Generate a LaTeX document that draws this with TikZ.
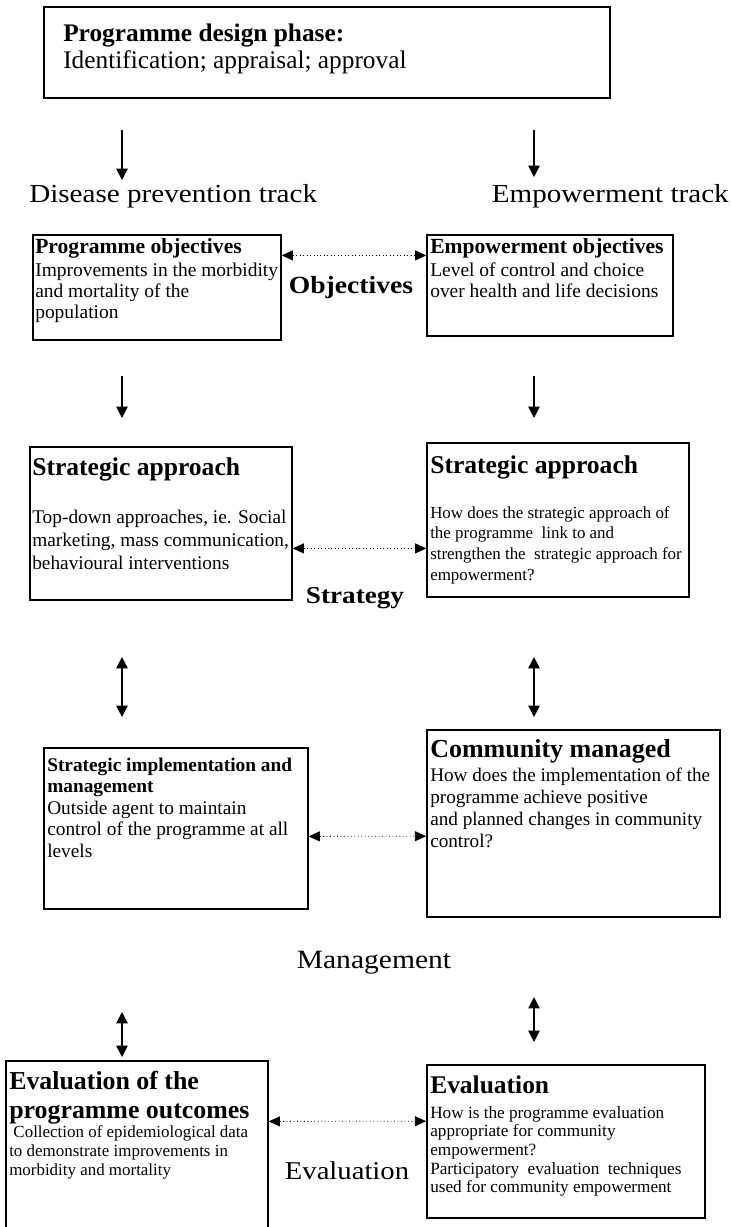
\documentclass[tikz,border=0pt]{standalone}
\usepackage{fontspec}
\setmainfont{Liberation Serif}
\usetikzlibrary{arrows.meta,fit,calc}
\newcommand\stk[3]{{\fontsize{#1}{#2}\selectfont\lineskiplimit=-100pt\relax\vtop{\halign{##\hfil\cr#3\crcr}}}}
\newcommand\one[2]{{\fontsize{#1}{#1}\selectfont #2}}
\newcommand\lbl[2]{\scalebox{1.12}[1]{\fontsize{#1}{#1}\selectfont #2}}
\begin{document}
\begin{tikzpicture}[x=0.75pt,y=-0.75pt,
  box/.style={draw, line width=0.9pt, inner sep=0pt},
  tx/.style={inner sep=0pt, anchor=base west},
  lab/.style={inner sep=0pt, anchor=base},
  tip/.tip={Triangle[width=8.5pt,length=8.5pt]},
  dtip/.tip={Triangle[width=7.5pt,length=8.5pt]},
  arr/.style={line width=1.1pt, -tip},
  darr/.style={line width=1.1pt, tip-tip},
  dotarr/.style={line width=0.6pt, dotted, dtip-dtip}]
\fill[white] (0,0) rectangle (731,1227);
\useasboundingbox (0,0) rectangle (731,1227);

% design phase
\node[box, fit={(44,7)(610,98)}] (top) {};
\node[tx] (topt) at (63,42) {\stk{19}{20}{\textbf{Programme design phase:}\cr Identification; appraisal; approval}};

\node[tx] (dpt) at (29,202) {\lbl{19.5}{Disease prevention track}};
\node[inner sep=0pt, anchor=base east] (ept) at (729,202) {\lbl{19.5}{Empowerment track}};

\coordinate (a1s) at (122,130); \coordinate (a1e) at (122,180);
\coordinate (a2s) at (534,130); \coordinate (a2e) at (534,177);
\draw[arr] (a1s) -- (a1e);
\draw[arr] (a2s) -- (a2e);

% objectives
\node[box, fit={(33,235)(281,340)}] (po) {};
\node[box, fit={(427,235)(673,336)}] (eo) {};
\node[tx] (pot) at (35,253) {\one{16.2}{\textbf{Programme objectives}}};
\node[tx] (pob) at (35,276) {\stk{14.6}{15.75}{Improvements in the morbidity\cr and mortality of the\cr population}};
\node[tx] (eot) at (430,253) {\one{16.2}{\textbf{Empowerment objectives}}};
\node[tx] (eob) at (430,276) {\stk{14.6}{15.75}{Level of control and choice\cr over health and life decisions}};
\draw[dotarr] ([yshift=-15.75pt]po.north east) -- ([yshift=-15.75pt]eo.north west);
\node[lab] (objl) at (351,293) {\lbl{18.5}{\bfseries Objectives}};

\coordinate (b1s) at (122,376); \coordinate (b1e) at (122,418);
\coordinate (b2s) at (534,376); \coordinate (b2e) at (534,418);
\draw[arr] (b1s) -- (b1e);
\draw[arr] (b2s) -- (b2e);

% strategy
\node[box, fit={(30,447)(292,600)}] (sl) {};
\node[box, fit={(427,443)(689,597)}] (sr) {};
\node[tx] (slt) at (32,475) {\one{19.2}{\textbf{Strategic approach}}};
\node[tx] (slb) at (32,523) {\stk{14.5}{17.5}{Top-down approaches, ie. Social\cr marketing, mass communication,\cr behavioural interventions}};
\node[tx] (srt) at (430,473) {\one{19.2}{\textbf{Strategic approach}}};
\node[tx] (srb) at (430,518) {\stk{12.7}{15.5}{How does the strategic approach of\cr the programme\ \ link to and\cr strengthen the\ \ strategic approach for\cr empowerment?}};
\draw[dotarr] ([yshift=-76.5pt]sl.north east) -- ([yshift=-79.5pt]sr.north west);
\node[lab] (strl) at (355,603) {\lbl{18.2}{\bfseries Strategy}};

\coordinate (c1s) at (122,657); \coordinate (c1e) at (122,717);
\coordinate (c2s) at (534,657); \coordinate (c2e) at (534,717);
\draw[darr] (c1s) -- (c1e);
\draw[darr] (c2s) -- (c2e);

% management
\node[box, fit={(44,748)(308,909)}] (ml) {};
\node[box, line width=1.2pt, fit={(427,730)(720,917)}] (mr) {};
\node[tx] (mlt) at (47,771) {\stk{14.5}{16}{\textbf{Strategic implementation and}\cr \textbf{management}}};
\node[tx] (mlb) at (47,814) {\stk{14.5}{16.3}{Outside agent to maintain\cr control of the programme at all\cr levels}};
\node[tx] (mrt) at (430,757) {\one{19.5}{\textbf{Community managed}}};
\node[tx] (mrb) at (430,781) {\stk{14.4}{16.5}{How does the implementation of the\cr programme achieve positive\cr and planned changes in community\cr control?}};
\draw[dotarr] ([yshift=-66.75pt]ml.north east) -- ([yshift=-80.25pt]mr.north west);
\node[lab] (mgl) at (374,968) {\lbl{19.8}{Management}};

\coordinate (d1s) at (122,1012); \coordinate (d1e) at (122,1057);
\coordinate (d2s) at (534,997); \coordinate (d2e) at (534,1042);
\draw[darr] (d1s) -- (d1e);
\draw[darr] (d2s) -- (d2e);

% evaluation
\node[box, fit={(6,1061)(268,1240)}] (el) {};
\node[box, line width=1.2pt, fit={(427,1065)(705,1218)}] (er) {};
\node[tx] (elt) at (9,1089) {\stk{19.4}{22}{\textbf{Evaluation of the}\cr \textbf{programme outcomes}}};
\node[tx] (elb) at (9,1137) {\stk{12.7}{14.5}{\ Collection of epidemiological data\cr to demonstrate improvements in\cr morbidity and mortality}};
\node[tx] (ert) at (430,1093) {\one{19.1}{\textbf{Evaluation}}};
\node[tx] (erb) at (430,1118) {\stk{12.9}{14}{How is the programme evaluation\cr appropriate for community\cr empowerment?\cr Participatory\ \ evaluation\ \ techniques\cr used for community empowerment}};
\draw[dotarr] ([yshift=-45.75pt]el.north east) -- ([yshift=-42.75pt]er.north west);
\node[lab] (evl) at (347,1179) {\lbl{19.2}{Evaluation}};
\end{tikzpicture}
\end{document}
